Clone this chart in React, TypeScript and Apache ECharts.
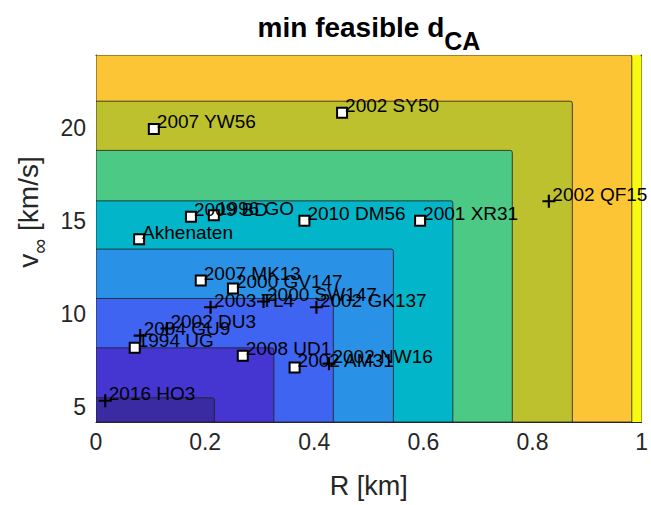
import React, { useEffect, useRef } from "react";
import * as echarts from "echarts";

// contour level boundaries (upper-right corner of each nested filled region)
const levelR = [0.217, 0.326, 0.435, 0.545, 0.654, 0.763, 0.873, 0.982, 1.0];
const levelV = [5.5, 8.18, 10.83, 13.48, 16.07, 18.78, 21.42, 23.9, 23.9];
const levelColors = ["#3b2ba2", "#4536d2", "#3f64f2", "#2a92e6", "#03b5c8", "#4bc985", "#bdc12d", "#fcc535", "#f8fa12"];

// objects drawn with white squares
const squareNames = ["2007 YW56", "2002 SY50", "2009 BD", "1996 GO", "Akhenaten", "2010 DM56", "2001 XR31", "2007 MK13", "2000 GV147", "1994 UG", "2008 UD1", "2002 AM31"];
const squareR = [0.106, 0.451, 0.174, 0.216, 0.079, 0.382, 0.594, 0.192, 0.251, 0.071, 0.269, 0.364];
const squareV = [19.93, 20.8, 15.22, 15.3, 14.01, 15.0, 15.0, 11.8, 11.37, 8.19, 7.76, 7.12];

// objects drawn with plus markers
const plusNames = ["2002 QF15", "2003 TL4", "2000 SW147", "2002 GK137", "2002 DU3", "2004 GU9", "2002 NW16", "2016 HO3"];
const plusR = [0.83, 0.21, 0.307, 0.404, 0.13, 0.081, 0.427, 0.017];
const plusV = [16.05, 10.36, 10.67, 10.36, 9.22, 8.84, 7.33, 5.34];

const xTicks = [0, 0.2, 0.4, 0.6, 0.8, 1];
const yTicks = [5, 10, 15, 20];
const R_MIN = 0, R_MAX = 1, V_MIN = 4.2, V_MAX = 23.9;

const FONT = "'Liberation Sans', Arial, Helvetica, sans-serif";
const AX = "#262626";

function measure(text: string, font: string): number {
  const c = document.createElement("canvas").getContext("2d")!;
  c.font = font;
  return c.measureText(text).width;
}

export default function App() {
  const ref = useRef<HTMLDivElement>(null);
  useEffect(() => {
    const chart = echarts.init(ref.current!, null, { renderer: "svg" });

    const levelData = levelR.map((r, i) => [r, levelV[i], i]).reverse();

    // title pieces
    const tMain = "min feasible d", tSub = "CA";
    const tMainFont = `bold 28px ${FONT}`, tSubFont = `bold 25px ${FONT}`;
    const wMain = measure(tMain, tMainFont), wSub = measure(tSub, tSubFont);
    const tx0 = 369 - (wMain + wSub) / 2;

    // y label pieces
    const yMainFont = `28px ${FONT}`, ySubFont = `21px ${FONT}`;
    const wv = measure("v", yMainFont), winf = measure("\u221e", ySubFont), wrest = measure(" [km/s]", yMainFont);
    const L = wv + winf + wrest;
    const yStart = 212 + L / 2;

    const labelStyle = {
      show: true,
      formatter: "{b}",
      position: "right" as const,
      distance: 0,
      offset: [-3, -7],
      fontSize: 19,
      color: "#000",
      fontFamily: FONT,
    };

    chart.setOption({
      animation: false,
      grid: { left: 96, right: 6, top: 55, bottom: 83, containLabel: false },
      xAxis: [
        {
          type: "value", min: R_MIN, max: R_MAX, interval: 0.2, position: "bottom",
          axisLine: { show: true, lineStyle: { color: AX, width: 1 } },
          axisTick: { show: true, inside: true, length: 5, lineStyle: { color: AX } },
          axisLabel: { fontSize: 23, color: AX, margin: 8, fontFamily: FONT, customValues: xTicks },
          splitLine: { show: false },
          name: "R [km]", nameLocation: "middle", nameGap: 50,
          nameTextStyle: { fontSize: 27, color: AX, fontFamily: FONT },
        },
        {
          type: "value", min: R_MIN, max: R_MAX, interval: 0.2, position: "top",
          axisLine: { show: true, onZero: false, lineStyle: { color: AX, width: 1 } },
          axisTick: { show: true, inside: true, length: 5, lineStyle: { color: AX } },
          axisLabel: { show: false }, splitLine: { show: false },
        },
      ],
      yAxis: [
        {
          type: "value", min: V_MIN, max: V_MAX, position: "left",
          axisLine: { show: true, onZero: false, lineStyle: { color: AX, width: 1 } },
          axisTick: { show: true, inside: true, length: 5, lineStyle: { color: AX }, customValues: yTicks },
          axisLabel: { fontSize: 23, color: AX, margin: 10, fontFamily: FONT, customValues: yTicks },
          splitLine: { show: false },
        },
        {
          type: "value", min: V_MIN, max: V_MAX, position: "right",
          axisLine: { show: true, onZero: false, lineStyle: { color: AX, width: 1 } },
          axisTick: { show: true, inside: true, length: 5, lineStyle: { color: AX }, customValues: yTicks },
          axisLabel: { show: false, customValues: yTicks }, splitLine: { show: false },
        },
      ],
      series: [
        {
          type: "custom",
          xAxisIndex: 0, yAxisIndex: 0,
          clip: true,
          encode: { x: 0, y: 1 },
          data: levelData,
          renderItem: (params: any, api: any) => {
            const r = api.value(0), v = api.value(1), k = api.value(2);
            const p0 = api.coord([R_MIN, V_MIN]);
            const p1 = api.coord([r, v]);
            return {
              type: "rect",
              shape: { x: p0[0], y: p1[1], width: p1[0] - p0[0], height: p0[1] - p1[1], r: [0, 2, 0, 0] },
              style: { fill: levelColors[k], stroke: "#1e1e1e", lineWidth: k === 8 ? 0 : 0.8 },
            };
          },
          z: 1,
        },
        {
          type: "scatter",
          xAxisIndex: 0, yAxisIndex: 0,
          symbol: "rect",
          symbolSize: 10,
          itemStyle: { color: "#ffffff", borderColor: "#000", borderWidth: 2, opacity: 1 },
          label: labelStyle,
          data: squareNames.map((n, i) => ({ name: n, value: [squareR[i], squareV[i]] })),
          z: 3,
        },
        {
          type: "scatter",
          xAxisIndex: 0, yAxisIndex: 0,
          symbol: "path://M5,0H7V5H12V7H7V12H5V7H0V5H5Z",
          symbolSize: 13,
          itemStyle: { color: "#000", opacity: 1 },
          label: labelStyle,
          data: plusNames.map((n, i) => ({ name: n, value: [plusR[i], plusV[i]] })),
          z: 3,
        },
      ],
      graphic: [
        { type: "text", x: tx0, y: 27, style: { text: tMain, font: tMainFont, fill: "#000", textAlign: "left", textVerticalAlign: "middle" } },
        { type: "text", x: tx0 + wMain, y: 41, style: { text: tSub, font: tSubFont, fill: "#000", textAlign: "left", textVerticalAlign: "middle" } },
        { type: "text", x: 28, y: yStart, rotation: Math.PI / 2, style: { text: "v", font: yMainFont, fill: AX, textAlign: "left", textVerticalAlign: "middle" } },
        { type: "text", x: 39, y: yStart - wv, rotation: Math.PI / 2, style: { text: "\u221e", font: ySubFont, fill: AX, textAlign: "left", textVerticalAlign: "middle" } },
        { type: "text", x: 28, y: yStart - wv - winf, rotation: Math.PI / 2, style: { text: " [km/s]", font: yMainFont, fill: AX, textAlign: "left", textVerticalAlign: "middle" } },
      ],
    });
    return () => chart.dispose();
  }, []);
  return <div ref={ref} style={{ position: "fixed", left: 0, top: 0, width: 651, height: 505, background: "#fff" }} />;
}
